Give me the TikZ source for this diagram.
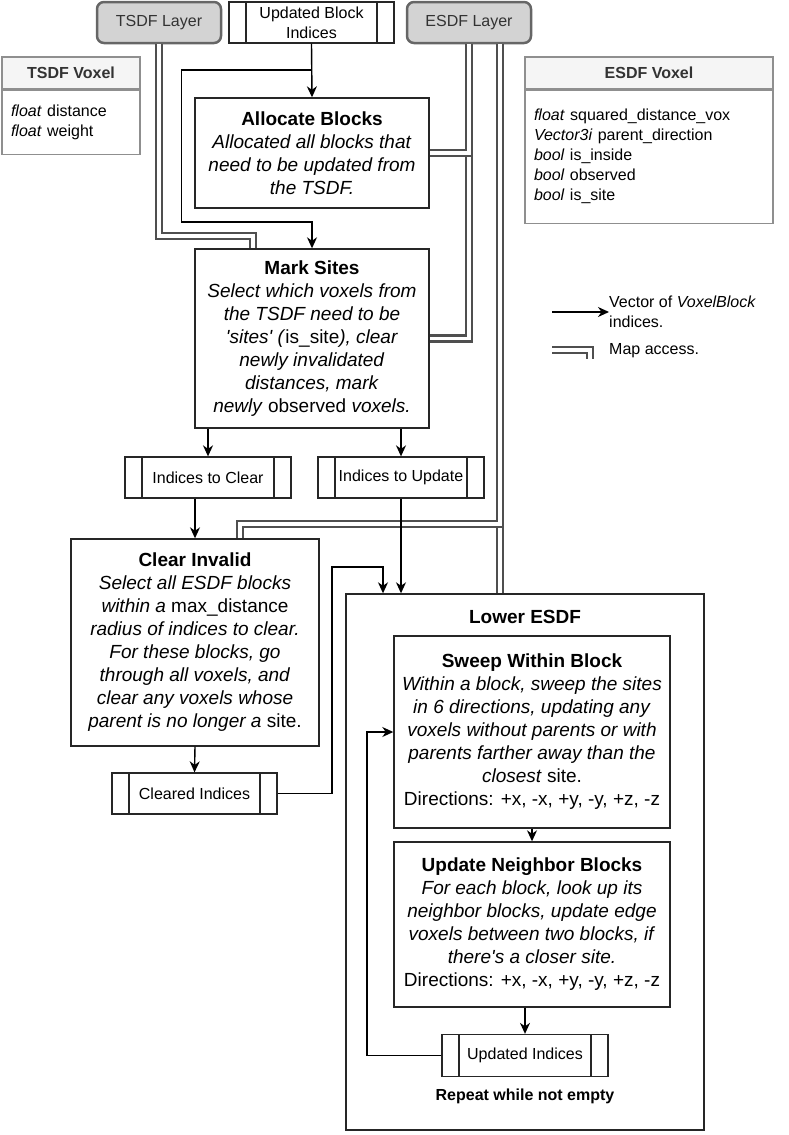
\documentclass[tikz,border=0pt]{standalone}
\usepackage{fontspec}
\setmainfont{Liberation Sans}
\usetikzlibrary{arrows.meta,positioning}
\definecolor{layerfill}{HTML}{D3D3D3}
\definecolor{layerline}{HTML}{666666}
\definecolor{mapgray}{HTML}{4F4F4F}
\definecolor{voxline}{HTML}{8F8F8F}
\definecolor{headfill}{HTML}{F5F5F5}
\newcommand{\mainfs}{\fontsize{19}{23}\selectfont}
\newcommand{\smallfs}{\fontsize{16}{20}\selectfont}
\newcommand{\sq}{\textquotesingle}

\begin{document}
\begin{tikzpicture}[x=1pt,y=-1pt,
  stepbox/.style={draw=black!85,line width=1.4pt,fill=white,align=center,font=\mainfs,inner sep=0pt},
  idxbox/.style={draw=black!85,line width=1.3pt,fill=white,align=center,font=\smallfs,inner sep=0pt,
    minimum height=41,
    path picture={\draw[line width=1.3pt,black!85]
      ([xshift=17pt]path picture bounding box.north west) -- ([xshift=17pt]path picture bounding box.south west)
      ([xshift=-17pt]path picture bounding box.north east) -- ([xshift=-17pt]path picture bounding box.south east);}},
  layer/.style={draw=layerline,line width=2.5pt,fill=layerfill,rounded corners=7pt,text=black!80,
    font=\smallfs,minimum width=124,minimum height=41},
  voxhead/.style={draw=voxline,line width=1.2pt,fill=headfill,font=\smallfs\bfseries,text=black!80,minimum height=32},
  voxbody/.style={draw=voxline,line width=1.2pt,font=\smallfs,align=left,inner xsep=9pt,anchor=north},
  flow/.style={-{Stealth[length=11pt,width=10pt,inset=3.5pt]},line width=1.4pt},
  maplink/.style={draw=mapgray,line width=2.6pt,double=white,double distance=3.4pt}]
\useasboundingbox (0,0) rectangle (789,1135);

% inputs and data types
\node[layer] (tsdflayer) at (159,22.5) {TSDF Layer};
\node[layer] (esdflayer) at (469,22.5) {ESDF Layer};
\node[idxbox,minimum width=165] (newidx) at (311.5,22.5) {Updated Block\\Indices};
\node[voxhead,minimum width=138] (tsdfvox) at (71,73) {TSDF Voxel};
\node[voxbody,text width=120,minimum height=64] (tsdfbody) at (tsdfvox.south)
  {\textit{float} distance\\\textit{float} weight};
\node[voxhead,minimum width=248] (esdfvox) at (649,73) {ESDF Voxel};
\node[voxbody,text width=230,minimum height=133] (esdfbody) at (esdfvox.south)
  {\textit{float} squared\_distance\_vox\\\textit{Vector3i} parent\_direction\\\textit{bool} is\_inside\\\textit{bool} observed\\\textit{bool} is\_site};

% steps
\node[stepbox,minimum width=234,minimum height=110] (alloc) at (312,153)
  {\textbf{Allocate Blocks}\\\textit{Allocated all blocks that}\\\textit{need to be updated from}\\\textit{the TSDF.}};
\node[stepbox,minimum width=234,minimum height=179] (mark) at (312,338.5)
  {\textbf{Mark Sites}\\\textit{Select which voxels from}\\\textit{the TSDF need to be}\\
   \textit{\sq sites\sq\ (}is\_site\textit{), clear}\\\textit{newly invalidated}\\\textit{distances, mark}\\
   \textit{newly} observed \textit{voxels.}};
\node[idxbox,minimum width=166] (clearidx) at (208,477.5) {Indices to Clear};
\node[idxbox,minimum width=166] (updidx) at (401,477.5) {Indices to Update};
\node[stepbox,minimum width=248,minimum height=207] (clear) at (195,642.5)
  {\textbf{Clear Invalid}\\\textit{Select all ESDF blocks}\\\textit{within a} max\_distance\\
   \textit{radius of indices to clear.}\\\textit{For these blocks, go}\\\textit{through all voxels, and}\\
   \textit{clear any voxels whose}\\\textit{parent is no longer a} site.};
\node[idxbox,minimum width=165] (cleared) at (194.5,793.5) {Cleared Indices};

% lower esdf loop
\node[stepbox,minimum width=358,minimum height=536] (lower) at (525,862) {};
\node[font=\mainfs\bfseries] (lowertitle) at (525,617) {Lower ESDF};
\node[stepbox,minimum width=276,minimum height=192] (sweep) at (532,732)
  {\textbf{Sweep Within Block}\\\textit{Within a block, sweep the sites}\\\textit{in 6 directions, updating any}\\
   \textit{voxels without parents or with}\\\textit{parents farther away than the}\\\textit{closest} site.\\
   Directions: +x, -x, +y, -y, +z, -z};
\node[stepbox,minimum width=276,minimum height=165] (neighbor) at (532,924.5)
  {\textbf{Update Neighbor Blocks}\\\textit{For each block, look up its}\\\textit{neighbor blocks, update edge}\\
   \textit{voxels between two blocks, if}\\\textit{there\sq s a closer site.}\\Directions: +x, -x, +y, -y, +z, -z};
\node[idxbox,minimum width=166,minimum height=42] (updated) at (525,1055.5) {Updated Indices};
\node[font=\smallfs\bfseries] (repeat) at (525,1096) {Repeat while not empty};

% legend
\coordinate (legvec) at (552,312);
\node[font=\smallfs,align=left,anchor=west,inner sep=0pt] (legvectext) at (609,312) {Vector of \textit{VoxelBlock}\\indices.};
\coordinate (legmap) at (552,350);
\coordinate (legmapend) at (590,359);
\node[font=\smallfs,anchor=west,inner sep=0pt] (legmaptext) at (609,351) {Map access.};
\draw[flow] (legvec) -- (legvectext.west);
\draw[maplink] (legmap) -| (legmapend);

% map access
\coordinate (tsdfturn) at (253,236);
\coordinate (esdftap) at ([xshift=31pt]esdflayer.south);
\coordinate (clearturn) at (240,524);
\draw[maplink] (tsdflayer.south) |- (tsdfturn) -- (tsdfturn |- mark.north);
\draw[maplink] (esdflayer.south) |- (mark.east);
\draw[maplink] (esdflayer.south) |- (alloc.east);
\draw[maplink] (esdftap) -- (esdftap |- lower.north);
\draw[maplink] (esdftap) |- (clearturn) -- (clearturn |- clear.north);

% block indices
\coordinate (loopa) at (181.5,70);
\coordinate (loopb) at (181.5,222);
\coordinate (clup) at (332,567);
\coordinate (cltop) at (383,567);
\coordinate (backx) at (367,732);
\draw[flow] (newidx.south) -- (alloc.north);
\draw[flow] (newidx.south) |- (loopa) -- (loopb) -| (mark.north);
\draw[flow] (clearidx.north |- mark.south) -- (clearidx.north);
\draw[flow] (updidx.north |- mark.south) -- (updidx.north);
\draw[flow] (clear.north |- clearidx.south) -- (clear.north);
\draw[flow] (clear.south) -- (cleared.north);
\draw[flow] (updidx.south) -- (updidx.south |- lower.north);
\draw[flow] (cleared.east) -| (clup) -- (cltop) -- (cltop |- lower.north);
\draw[flow] (sweep.south) -- (neighbor.north);
\draw[flow] (updated.north |- neighbor.south) -- (updated.north);
\draw[flow] (updated.west) -| (backx) -- (sweep.west);
\end{tikzpicture}
\end{document}
